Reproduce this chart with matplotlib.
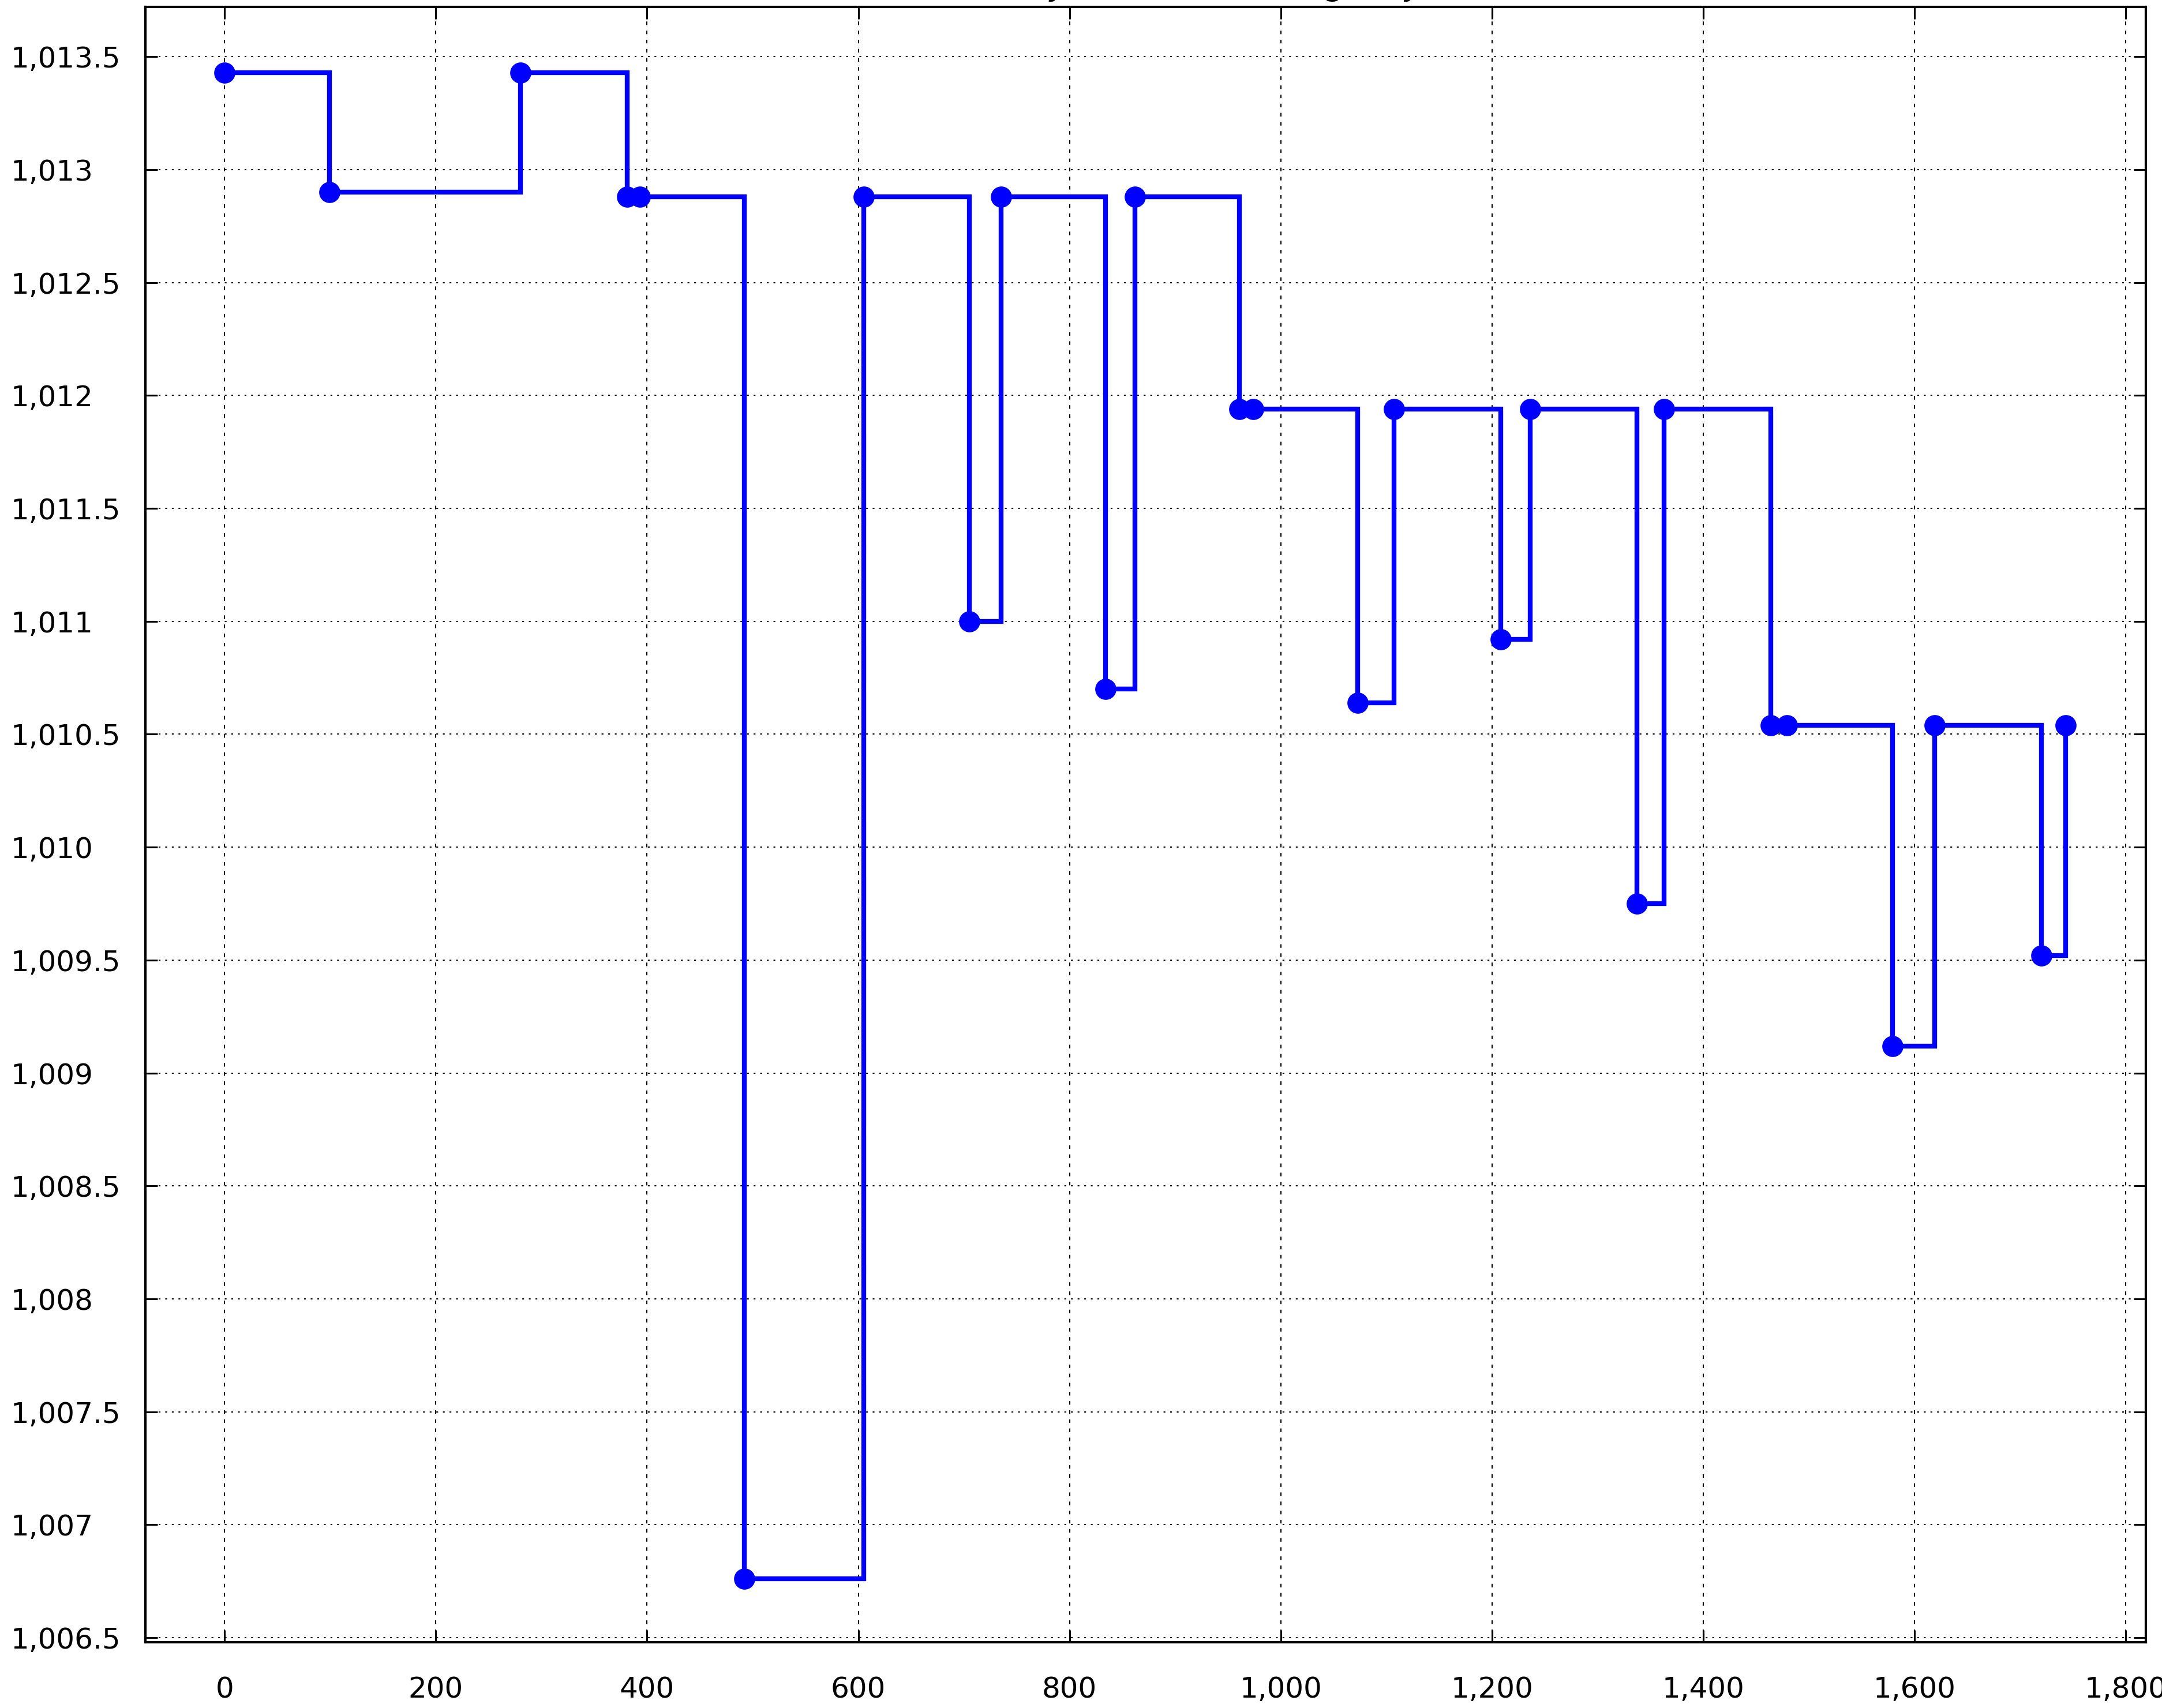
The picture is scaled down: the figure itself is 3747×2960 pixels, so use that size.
import matplotlib
matplotlib.use("Agg")
import matplotlib.pyplot as plt
from matplotlib.ticker import FuncFormatter, MultipleLocator

# Data
x_vals = [0, 99, 280, 381, 393, 492, 605, 705, 735, 834, 862, 961, 974,
          1073, 1107, 1208, 1236, 1337, 1363, 1464, 1479, 1579, 1619, 1720, 1743]
y_vals = [1013.43, 1012.90, 1013.43, 1012.88, 1012.88, 1006.76, 1012.88, 1011.00,
          1012.88, 1010.70, 1012.88, 1011.94, 1011.94, 1010.64, 1011.94, 1010.92,
          1011.94, 1009.75, 1011.94, 1010.54, 1010.54, 1009.12, 1010.54, 1009.52,
          1010.54]
title_text = "Pressure by Station Reading Day"

plt.rcParams['font.family'] = ['DejaVu Sans']

fig = plt.figure(figsize=(3747 / 300, 2960 / 300), dpi=300)
ax = fig.add_axes([252 / 3747, 1 - 2846 / 2960, (3719 - 252) / 3747, (2846 - 12) / 2960])

ax.plot(x_vals, y_vals, drawstyle='steps-post', color='#0000ff', lw=2.0,
        solid_joinstyle='miter', zorder=3)
ax.plot(x_vals, y_vals, 'o', color='#0000ff', ms=7.8, zorder=4)

ax.set_xlim(-75, 1819)
ax.set_ylim(1006.48, 1013.72)

ax.xaxis.set_major_locator(MultipleLocator(200))
ax.yaxis.set_major_locator(MultipleLocator(0.5))

def fmt(v, pos):
    s = f"{v:,.1f}"
    if s.endswith(".0"):
        s = s[:-2]
    return s

ax.xaxis.set_major_formatter(FuncFormatter(fmt))
ax.yaxis.set_major_formatter(FuncFormatter(fmt))

ax.grid(True, axis='y', color='black', lw=0.5, linestyle=(0, (1.5, 4.0)), zorder=1)
ax.grid(True, axis='x', color='black', lw=0.5, linestyle=(0, (3.0, 4.6)), zorder=1)

ax.tick_params(axis='both', which='major', direction='in', length=5, width=0.75,
               top=True, right=True, labelsize=12, colors='black')
ax.tick_params(axis='x', pad=14)
ax.tick_params(axis='y', pad=56)
for lbl in ax.get_yticklabels():
    lbl.set_horizontalalignment('left')

for sp in ax.spines.values():
    sp.set_linewidth(1.0)
    sp.set_color('black')

ax.set_title(title_text, fontsize=14, pad=5)

fig.savefig("out.png", dpi=300)
